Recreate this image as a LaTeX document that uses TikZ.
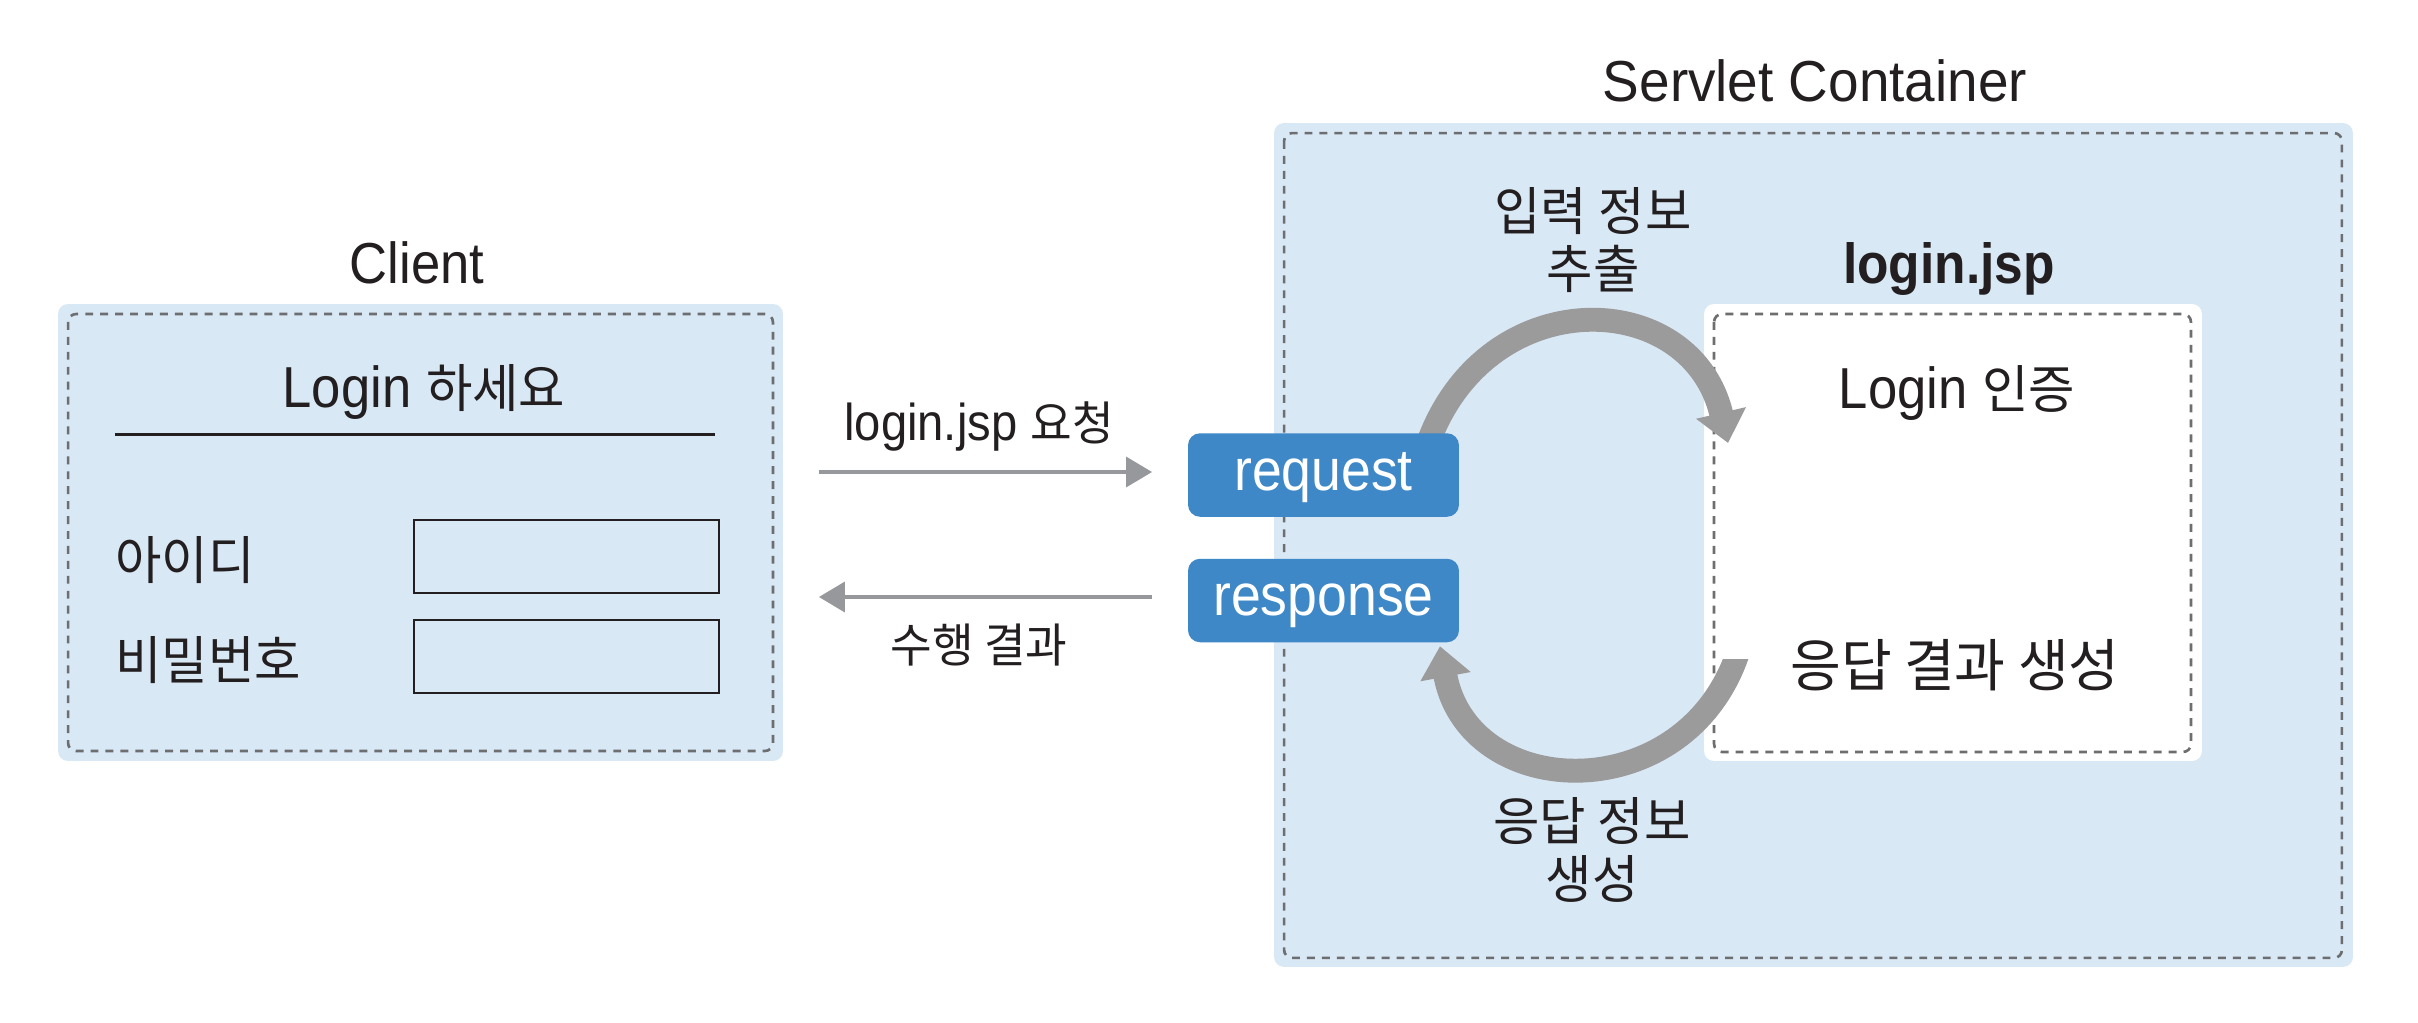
\documentclass[tikz,border=0pt]{standalone}
\usepackage{fontspec}
\setmainfont{Liberation Sans}[FakeStretch=0.91]
\newfontfamily\kr{Noto Sans CJK KR}[FakeStretch=0.97,Scale=0.9]
\usetikzlibrary{arrows.meta,calc}
\definecolor{panelfill}{RGB}{217,232,245}
\definecolor{dashc}{RGB}{109,110,112}
\definecolor{arcgray}{RGB}{155,155,155}
\definecolor{arrgray}{RGB}{151,152,155}
\definecolor{btnblue}{RGB}{62,136,200}
\definecolor{textc}{RGB}{35,31,32}
\pgfdeclarelayer{back}
\pgfdeclarelayer{mid}
\pgfsetlayers{back,mid,main}
\begin{document}
\begin{tikzpicture}[x=0.02cm,y=-0.02cm,
  panel/.style={draw=none,fill=panelfill,rounded corners=5.6pt,inner sep=0pt,outer sep=0pt},
  whitepanel/.style={draw=none,fill=white,rounded corners=5.6pt,inner sep=0pt,outer sep=0pt},
  dashbox/.style={draw=dashc,line width=1.5pt,dash pattern=on 4.5pt off 4pt,rounded corners=4.5pt},
  inbox/.style={draw=textc,line width=1.5pt,fill=none,inner sep=0pt,outer sep=0pt,minimum width=6.1cm,minimum height=1.46cm},
  lbl/.style={text=textc,inner sep=0pt,font=\fontsize{32.9pt}{32.5pt}\selectfont},
  boldlbl/.style={text=textc,inner sep=0pt,font=\fontsize{32.2pt}{32.5pt}\selectfont\bfseries},
  krlbl/.style={text=textc,inner sep=0pt,align=center,font=\fontsize{32.9pt}{32.5pt}\selectfont\kr},
  krbig/.style={text=textc,inner sep=0pt,align=center,font=\fontsize{36pt}{36pt}\selectfont\kr},
  smalllbl/.style={text=textc,inner sep=0pt,font=\fontsize{29.5pt}{30pt}\selectfont},
  krsmall/.style={text=textc,inner sep=0pt,font=\fontsize{29.5pt}{30pt}\selectfont\kr},
  btn/.style={fill=btnblue,text=white,rounded corners=6.8pt,inner sep=0pt,outer sep=0pt,
    minimum width=5.42cm,minimum height=1.67cm,text height=23pt,text depth=5.4pt,
    font=\fontsize{33.5pt}{34pt}\selectfont},
  flowarc/.style={draw=arcgray,line width=13.6pt,-{Triangle[length=17.6pt,width=28pt]}},
  garrow/.style={draw=arrgray,line width=2pt,-{Triangle[length=14.7pt,width=17pt]}}
]
\useasboundingbox (0,0) rectangle (2418,1022);

\begin{pgfonlayer}{back}
  \fill[white] (0,0) rectangle (2418,1022);
  % client panel
  \node[panel,minimum width=14.5cm,minimum height=9.14cm] (client) at (420.5,532.5) {};
  \draw[dashbox] ($(client.north west)+(10,10)$) rectangle ($(client.south east)+(-10,-10)$);
  % servlet container
  \node[panel,minimum width=21.58cm,minimum height=16.88cm] (container) at (1813.5,545) {};
  \draw[dashbox] ($(container.north west)+(10,10)$) rectangle ($(container.south east)+(-11,-9)$);
  % login.jsp panel
  \node[whitepanel,minimum width=9.96cm,minimum height=9.14cm] (jsp) at (1953,532.5) {};
  \draw[dashbox] ($(jsp.north west)+(10,10)$) rectangle ($(jsp.south east)+(-11,-9)$);
\end{pgfonlayer}

% titles
\node[lbl,anchor=base] (clientT) at (417,283) {Client};
\node[lbl,anchor=base] (servT) at (1815,101) {\addfontfeature{FakeStretch=0.95}Servlet Container};
\node[boldlbl,anchor=base] (jspT) at (1949,283) {login.jsp};

% client content
\node[lbl,anchor=base] (loginT) at (424,407) {Login {\kr 하세요}};
\draw[textc,line width=1.7pt] ($(client.north west)+(57,130)$) -- ($(client.north east)+(-68,130)$);
\node[krlbl,anchor=west] (idT) at (115,560) {아이디};
\node[krlbl,anchor=west] (pwT) at (115,660) {비밀번호};
\node[inbox] (idbox) at (566.5,556.5) {};
\node[inbox] (pwbox) at (566.5,656.5) {};

% buttons
\node[btn] (request) at (1323.5,475) {request};
\node[btn] (response) at (1323.5,600.5) {response};

% client <-> container arrows
\node[smalllbl,anchor=base] (reqT) at (979,440) {login.jsp {\kr 요청}};
\node[krsmall] (resT) at (979,645) {수행 결과};
\draw[garrow] ($(client.east |- request.west)+(36,-3)$) -- ($(request.west)+(-36,-3)$);
\draw[garrow] ($(response.west)+(-36,-3.5)$) -- ($(client.east |- response.west)+(36,-3.5)$);

% container texts
\node[krlbl] (extT) at (1593,240) {입력 정보\\추출};
\node[krlbl] (genT) at (1592,850) {응답 정보\\생성};
\node[lbl,anchor=base] (authT) at (1957,408) {Login {\kr 인증}};
\node[krbig] (resultT) at (1955,665) {응답 결과 생성};

% flow arcs
\begin{pgfonlayer}{mid}
  \draw[flowarc] ($(request.north east)+(-39,37)$) .. controls (1465,280) and (1690,280) .. ($(jsp.north west)+(24,139)$);
  \begin{scope}
    \clip (1300,600) rectangle (1600,830) (1600,659) rectangle (1800,830);
    \draw[flowarc] ($(jsp.north west)+(41,321)$) .. controls (1710,810) and (1470,810) .. ($(response.south east)+(-19,4)$);
  \end{scope}
\end{pgfonlayer}
\end{tikzpicture}
\end{document}
